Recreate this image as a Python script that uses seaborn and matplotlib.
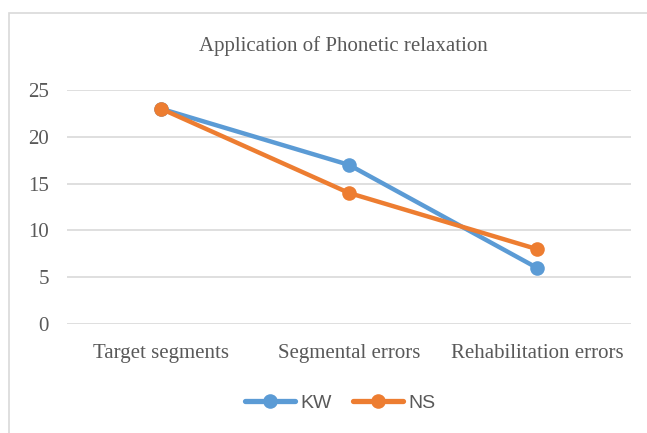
import matplotlib
matplotlib.use("Agg")
import matplotlib.pyplot as plt
import seaborn as sns
import pandas as pd
from matplotlib.patches import Rectangle

categories = ["Target segments", "Segmental errors", "Rehabilitation errors"]
kw_values = [23, 17, 6]
ns_values = [23, 14, 8]
series_names = ["KW", "NS"]
title = "Application of Phonetic relaxation"
y_ticks = [0, 5, 10, 15, 20, 25]

df = pd.DataFrame({
    "cat": list(range(len(categories))) * 2,
    "value": kw_values + ns_values,
    "series": [series_names[0]] * 3 + [series_names[1]] * 3,
})

sns.set_style("white")
plt.rcParams["font.family"] = ["Liberation Serif", "DejaVu Serif"]

W, H = 647, 433
fig = plt.figure(figsize=(W / 100, H / 100), dpi=100)
ax = fig.add_axes([67 / W, 1 - 324 / H, (631 - 67) / W, (324 - 90) / H])

palette = {"KW": "#5B9BD5", "NS": "#ED7D31"}
sns.lineplot(data=df, x="cat", y="value", hue="series", palette=palette,
             marker="o", markersize=10.5, linewidth=3.2, markeredgewidth=0,
             ax=ax, legend=True)

ax.set_xlim(-0.5, 2.5)
ax.set_ylim(0, 25)
ax.set_yticks(y_ticks)
ax.set_xticks(range(len(categories)))
ax.set_xticklabels(categories)
ax.set_xlabel("")
ax.set_ylabel("")
ax.grid(axis="y", color="#D9D9D9", linewidth=1.2)
ax.grid(axis="x", visible=False)
ax.set_axisbelow(True)
for s in ax.spines.values():
    s.set_visible(False)
ax.tick_params(axis="both", length=0, labelsize=15, colors="#595959")
ax.tick_params(axis="x", pad=14.5)
ax.tick_params(axis="y", pad=13)

handles, labels = ax.get_legend_handles_labels()
ax.legend_.remove()
for h in handles:
    h.set_linewidth(3.8)
leg = fig.legend(handles, labels, loc="center", bbox_to_anchor=(340 / W, 1 - 403 / H),
                 ncol=2, frameon=False, handlelength=2.6, columnspacing=1.1,
                 handletextpad=0.25,
                 prop={"family": ["Liberation Sans", "DejaVu Sans"], "size": 14})
for t in leg.get_texts():
    t.set_color("#595959")

fig.text(343 / W, 1 - 46 / H, title, ha="center", va="center", fontsize=15,
         color="#595959")

fig.patches.append(Rectangle((9 / W, -0.05), 1.1, 1 - 13 / H + 0.05,
                             transform=fig.transFigure, fill=False,
                             edgecolor="#D9D9D9", linewidth=1.2))

fig.savefig("out.png", dpi=100, facecolor="white")
